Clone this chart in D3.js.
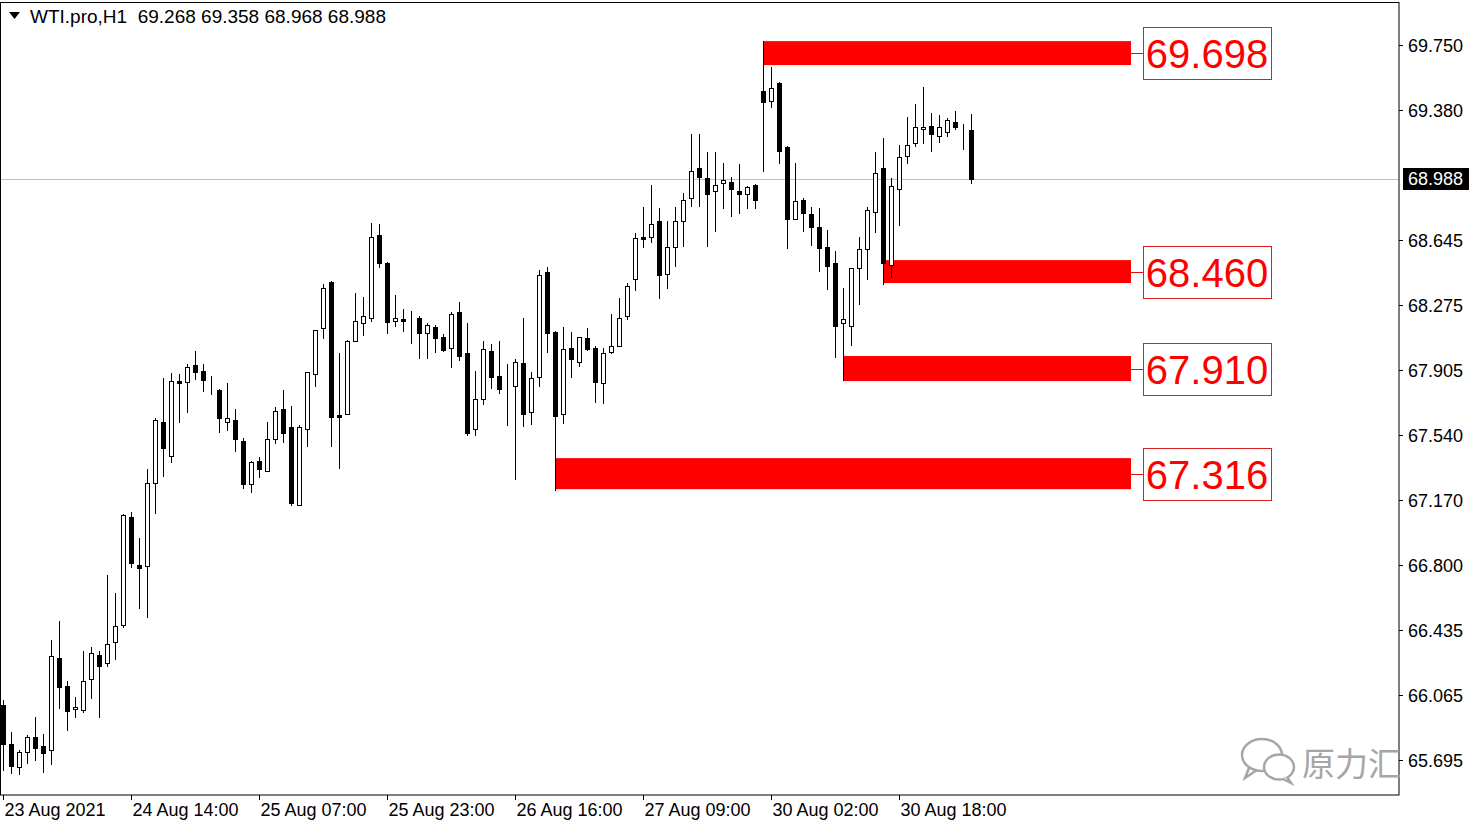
<!DOCTYPE html>
<meta charset="utf-8">
<style>
  body { margin: 0; background: #fff; }
  svg text { font-family: 'Liberation Sans', Arial, sans-serif; }
  .axis text { font-size: 18px; fill: #000; }
  .axis line { stroke: #000; shape-rendering: crispEdges; }
  .axis .domain { display: none; }
  .zone-label { font-size: 40px; fill: #ff0000; }
  .header { white-space: pre; }
  .mark { font-family: 'Noto Sans CJK SC', sans-serif; font-size: 33px; fill: #a6a6a6; }
</style>
<body>
<div id="chart"></div>
<script src="https://d3js.org/d3.v7.min.js"></script>
<script>
// WTI.pro H1, one value per bar, left to right
var opens = [66.006,65.785,65.655,65.740,65.825,65.774,65.751,66.273,66.114,65.984,
  65.978,66.154,66.290,66.244,66.364,66.460,67.073,66.800,66.795,67.265,
  67.611,67.419,67.844,67.838,67.935,67.901,67.804,67.793,67.611,67.623,
  67.504,67.260,67.390,67.334,67.515,67.685,67.583,67.141,67.572,67.884,
  68.145,68.406,67.651,67.657,68.071,68.173,68.201,68.672,68.513,68.184,
  68.196,68.196,68.201,68.116,68.150,68.094,68.031,68.235,68.003,67.572,
  67.742,68.014,67.872,67.804,67.816,67.946,67.668,67.867,68.462,68.122,
  67.657,68.031,67.952,68.088,68.031,67.833,68.008,68.043,68.213,68.422,
  68.661,68.661,68.752,68.451,68.604,68.752,68.882,69.052,68.995,68.922,
  68.967,68.973,68.922,68.905,68.956,69.489,69.432,69.534,69.171,68.763,
  68.871,68.791,68.718,68.604,68.513,68.173,68.156,68.485,68.593,68.803,
  69.052,68.502,68.933,69.120,69.194,69.273,69.290,69.234,69.256,69.313,
  69.285,69.268];
var highs = [66.035,65.853,65.751,65.836,65.938,65.842,66.375,66.483,66.142,66.052,
  66.313,66.335,66.313,66.744,66.642,67.090,67.101,66.954,67.345,67.634,
  67.861,67.889,67.884,67.940,68.014,67.940,67.872,67.798,67.833,67.685,
  67.521,67.390,67.413,67.611,67.697,67.793,67.702,67.594,67.895,68.133,
  68.394,68.410,68.003,68.077,68.343,68.320,68.740,68.734,68.519,68.332,
  68.252,68.241,68.213,68.173,68.162,68.111,68.235,68.292,68.173,67.901,
  68.071,68.054,68.071,67.940,67.969,68.201,67.895,68.474,68.491,68.128,
  68.150,68.122,68.094,68.145,68.043,68.031,68.224,68.315,68.400,68.683,
  68.831,68.956,68.825,68.752,68.831,68.910,69.245,69.245,69.143,69.143,
  69.080,69.001,69.075,68.950,68.960,69.772,69.625,69.540,69.176,69.080,
  68.882,68.831,68.825,68.700,68.581,68.372,68.485,68.661,68.831,69.143,
  69.222,68.995,69.183,69.341,69.415,69.512,69.364,69.353,69.336,69.375,
  69.302,69.358];
var lows = [65.638,65.621,65.615,65.677,65.694,65.626,65.672,65.989,65.864,65.938,
  65.967,66.046,65.938,66.227,66.267,66.449,66.789,66.556,66.505,67.096,
  67.305,67.385,67.611,67.668,67.855,67.787,67.770,67.555,67.566,67.447,
  67.237,67.214,67.299,67.334,67.492,67.498,67.141,67.141,67.475,67.816,
  68.088,67.475,67.351,67.657,68.071,68.105,68.184,68.491,68.116,68.156,
  68.128,68.060,67.974,67.974,68.008,68.016,67.923,67.963,67.538,67.538,
  67.714,67.804,67.776,67.594,67.288,67.589,67.600,67.816,68.008,67.226,
  67.606,67.867,67.929,68.022,67.725,67.719,68.003,68.043,68.196,68.360,
  68.604,68.632,68.315,68.372,68.496,68.610,68.837,68.837,68.610,68.695,
  68.825,68.780,68.797,68.825,68.825,69.035,69.398,69.080,68.598,68.763,
  68.695,68.616,68.468,68.366,67.980,67.850,68.048,68.281,68.422,68.689,
  68.394,68.434,68.729,69.080,69.177,69.194,69.149,69.200,69.234,69.273,
  69.160,68.968];
var closes = [65.785,65.660,65.740,65.825,65.762,65.734,66.284,66.108,65.972,65.995,
  66.142,66.301,66.227,66.352,66.454,67.084,66.812,66.783,67.265,67.623,
  67.464,67.844,67.833,67.923,67.895,67.850,67.806,67.634,67.634,67.515,
  67.260,67.385,67.345,67.515,67.674,67.549,67.152,67.583,67.895,68.133,
  68.372,67.640,67.640,68.071,68.184,68.213,68.661,68.513,68.179,68.201,
  68.184,68.194,68.116,68.162,68.088,68.020,68.224,67.986,67.549,67.742,
  68.026,67.867,67.799,67.802,67.952,67.657,67.861,68.445,68.116,67.645,
  68.026,67.969,68.094,68.026,67.838,68.003,68.043,68.201,68.383,68.655,
  68.649,68.734,68.445,68.604,68.752,68.871,69.035,69.001,68.905,68.956,
  68.984,68.933,68.905,68.944,68.871,69.426,69.506,69.149,68.763,68.865,
  68.797,68.718,68.598,68.496,68.156,68.196,68.485,68.593,68.814,69.024,
  68.513,68.950,69.115,69.183,69.285,69.285,69.245,69.285,69.324,69.285,
  69.283,68.988];

var priceTicks = [69.750, 69.380, 68.645, 68.275, 67.905, 67.540, 67.170, 66.800, 66.435, 66.065, 65.695];
var timeTickBars = [0, 16, 32, 48, 64, 80, 96, 112];
var timeTickLabels = ['23 Aug 2021', '24 Aug 14:00', '25 Aug 07:00', '25 Aug 23:00',
                      '26 Aug 16:00', '27 Aug 09:00', '30 Aug 02:00', '30 Aug 18:00'];

// red zones: first bar, upper and lower price, label
var zoneStart = [95, 110, 105, 69];
var zoneTop = [69.772, 68.530, 67.986, 67.407];
var zoneBottom = [69.636, 68.400, 67.844, 67.231];
var zoneLabels = ['69.698', '68.460', '67.910', '67.316'];
var zoneEnd = 141;

var symbol = 'WTI.pro,H1';
var lastPrice = 68.988;

var width = 1481;
var height = 827;
var plotRight = 1399;
var plotBottom = 795;

var x = d3.scaleLinear().domain([0, 1]).range([3, 11]);
var y = d3.scaleLinear().domain([65.695, 69.750]).range([760, 45]);

var svg = d3.select('#chart').append('svg')
    .attr('width', width)
    .attr('height', height);

// zones behind the candles
var zones = svg.append('g').attr('class', 'zones');
zoneStart.forEach(function (s, i) {
  var mid = Math.round((y(zoneTop[i]) + y(zoneBottom[i])) / 2) + 0.5;
  zones.append('rect')
      .attr('x', x(s))
      .attr('y', y(zoneTop[i]))
      .attr('width', x(zoneEnd) - x(s))
      .attr('height', y(zoneBottom[i]) - y(zoneTop[i]))
      .attr('fill', '#ff0000');
  zones.append('line')
      .attr('x1', x(zoneEnd)).attr('x2', x(zoneEnd) + 12)
      .attr('y1', mid).attr('y2', mid)
      .attr('stroke', '#e01010');
  zones.append('rect')
      .attr('x', x(zoneEnd) + 12.5)
      .attr('y', mid - 26)
      .attr('width', 128)
      .attr('height', 52)
      .attr('fill', 'none')
      .attr('stroke', '#d82020');
  zones.append('text')
      .attr('class', 'zone-label')
      .attr('x', x(zoneEnd) + 76)
      .attr('y', mid)
      .attr('dy', '0.36em')
      .attr('text-anchor', 'middle')
      .text(zoneLabels[i]);
});

// last price line
svg.append('line')
    .attr('x1', 0).attr('x2', plotRight)
    .attr('y1', Math.round(y(lastPrice)) + 0.5).attr('y2', Math.round(y(lastPrice)) + 0.5)
    .attr('stroke', '#c0c0c0');

// candles
var bars = d3.range(opens.length);
var candles = svg.append('g').attr('class', 'candles');

candles.selectAll('line')
    .data(bars)
  .enter().append('line')
    .attr('x1', function (i) { return Math.round(x(i)) + 0.5; })
    .attr('x2', function (i) { return Math.round(x(i)) + 0.5; })
    .attr('y1', function (i) { return Math.round(y(highs[i])); })
    .attr('y2', function (i) { return Math.round(y(lows[i])) + 1; })
    .attr('stroke', '#000')
    .attr('shape-rendering', 'crispEdges');

candles.selectAll('rect')
    .data(bars)
  .enter().append('rect')
    .attr('x', function (i) { return Math.round(x(i)) - 1.5; })
    .attr('y', function (i) { return Math.round(y(Math.max(opens[i], closes[i]))) + 0.5; })
    .attr('width', 4)
    .attr('height', function (i) {
      return Math.max(0, Math.round(y(Math.min(opens[i], closes[i]))) - Math.round(y(Math.max(opens[i], closes[i]))));
    })
    .attr('fill', function (i) { return closes[i] > opens[i] ? '#fff' : '#000'; })
    .attr('stroke', '#000');

// frame
svg.append('rect')
    .attr('x', 0.5).attr('y', 2.5)
    .attr('width', plotRight - 0.5).attr('height', plotBottom - 2.5)
    .attr('fill', 'none')
    .attr('stroke', '#000');

// watermark (sits under the price labels)
var wm = svg.append('g').attr('fill', 'none').attr('stroke', '#a6a6a6').attr('stroke-width', 2.5);
wm.append('ellipse').attr('cx', 1262).attr('cy', 755).attr('rx', 20).attr('ry', 16);
wm.append('path').attr('d', 'M1249,768 L1245,778 L1257,770');
wm.append('ellipse').attr('cx', 1279).attr('cy', 767).attr('rx', 15).attr('ry', 12.5).attr('fill', '#fff');
wm.append('path').attr('d', 'M1287,777 L1291,783 L1283,779').attr('fill', '#fff');
svg.append('text')
    .attr('class', 'mark')
    .attr('x', 1302).attr('y', 776)
    .text('原力汇');

// price axis
var yAxis = svg.append('g')
    .attr('class', 'axis')
    .attr('transform', 'translate(' + plotRight + ',0)')
    .call(d3.axisRight(y).tickValues(priceTicks).tickFormat(d3.format('.3f')).tickSize(4));
yAxis.selectAll('text').attr('x', 9).attr('dy', '0.36em');

var py = Math.round(y(lastPrice));
svg.append('rect')
    .attr('x', plotRight + 4).attr('y', py - 11)
    .attr('width', 66).attr('height', 22)
    .attr('fill', '#000');
svg.append('text')
    .attr('x', plotRight + 9).attr('y', py)
    .attr('dy', '0.36em')
    .attr('font-size', 18)
    .attr('fill', '#fff')
    .text(d3.format('.3f')(lastPrice));

// time axis
var xAxis = svg.append('g')
    .attr('class', 'axis')
    .attr('transform', 'translate(0,' + plotBottom + ')')
    .call(d3.axisBottom(x).tickValues(timeTickBars)
      .tickFormat(function (d, i) { return timeTickLabels[i]; })
      .tickSize(5));
xAxis.selectAll('text').attr('text-anchor', 'start').attr('x', 1).attr('y', 8);

// header
svg.append('path')
    .attr('d', 'M9,12L20,12L14.5,19Z')
    .attr('fill', '#000');
svg.append('text')
    .attr('class', 'header')
    .attr('x', 30).attr('y', 23)
    .attr('font-size', 19)
    .text(symbol + '  ' + [opens[121], highs[121], lows[121], closes[121]].map(d3.format('.3f')).join(' '));
</script>
</body>
